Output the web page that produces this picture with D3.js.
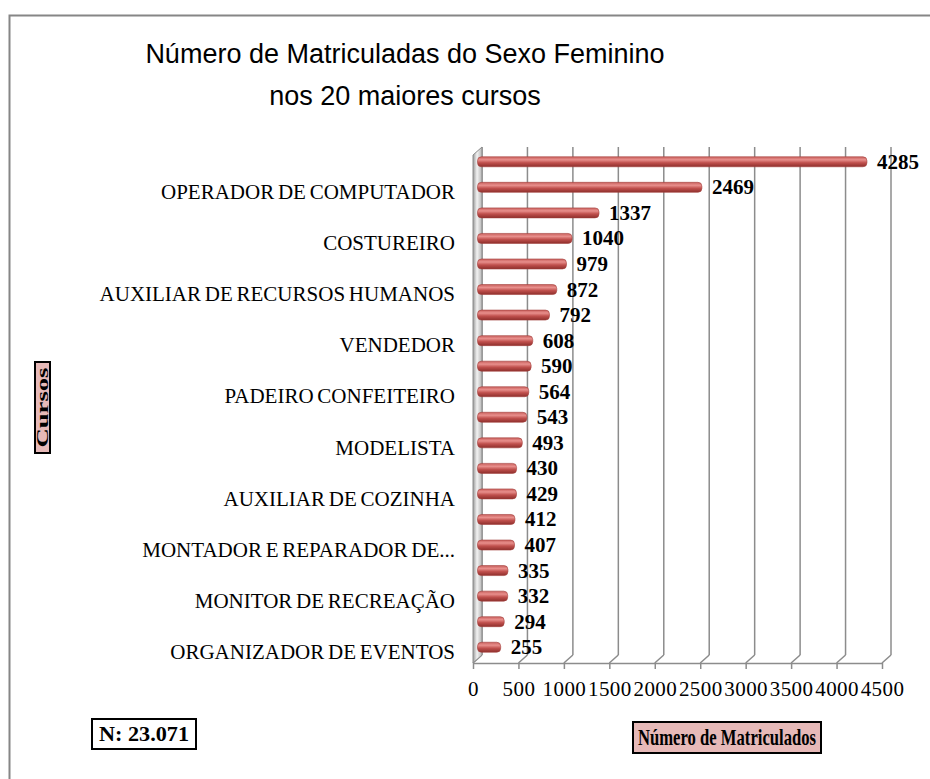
<!DOCTYPE html>
<html>
<head>
<meta charset="utf-8">
<script src="https://cdnjs.cloudflare.com/ajax/libs/d3/7.8.5/d3.min.js"></script>
<style>
  body { margin: 0; background: #fff; }
  svg { display: block; }
</style>
</head>
<body>
<div id="chart"></div>
<script>
// 20 maiores cursos (only every other name is printed on the axis; hidden ones unknown)
var cursos = [
    "", "OPERADOR DE COMPUTADOR",
    "", "COSTUREIRO",
    "", "AUXILIAR DE RECURSOS HUMANOS",
    "", "VENDEDOR",
    "", "PADEIRO CONFEITEIRO",
    "", "MODELISTA",
    "", "AUXILIAR DE COZINHA",
    "", "MONTADOR E REPARADOR DE...",
    "", "MONITOR DE RECREAÇÃO",
    "", "ORGANIZADOR DE EVENTOS"
];
var matriculadas = [4285, 2469, 1337, 1040, 979, 872, 792, 608, 590, 564,
                    543, 493, 430, 429, 412, 407, 335, 332, 294, 255];
var xTicks = [0, 500, 1000, 1500, 2000, 2500, 3000, 3500, 4000, 4500];

var width = 930, height = 779,
    depth = {x: 9, y: 8},
    plot = {left: 473, right: 882, top: 147, bottom: 663},
    grid_color = "#8c8c8c",
    serif = "'Liberation Serif', 'Times New Roman', serif";

var svg = d3.select("#chart").append("svg")
    .attr("width", width)
    .attr("height", height)
    .style("font-family", serif);

var defs = svg.append("defs");
var barGrad = defs.append("linearGradient")
    .attr("id", "bar-grad")
    .attr("x1", 0).attr("y1", 0).attr("x2", 0).attr("y2", 1);
barGrad.append("stop").attr("offset", "0%").attr("stop-color", "#c9605d");
barGrad.append("stop").attr("offset", "30%").attr("stop-color", "#e88f8c");
barGrad.append("stop").attr("offset", "60%").attr("stop-color", "#c0504d");
barGrad.append("stop").attr("offset", "100%").attr("stop-color", "#8e2f2c");

var wallGrad = defs.append("linearGradient")
    .attr("id", "wall-grad")
    .attr("x1", 0).attr("y1", 0).attr("x2", 1).attr("y2", 0);
wallGrad.append("stop").attr("offset", "0%").attr("stop-color", "#9a9a9a");
wallGrad.append("stop").attr("offset", "45%").attr("stop-color", "#f2f2f2");
wallGrad.append("stop").attr("offset", "100%").attr("stop-color", "#b5b5b5");

// outer chart border
svg.append("rect")
    .attr("x", 9.5).attr("y", 15.5)
    .attr("width", 930).attr("height", 780)
    .attr("fill", "#fff")
    .attr("stroke", "#868686")
    .attr("stroke-width", 2);

// title
var title = svg.append("text")
    .attr("text-anchor", "middle")
    .style("font-family", "'Liberation Sans', Arial, sans-serif")
    .style("font-size", "27px")
    .attr("fill", "#000");
title.append("tspan").attr("x", 405).attr("y", 63).text("Número de Matriculadas do Sexo Feminino");
title.append("tspan").attr("x", 405).attr("y", 105).text("nos 20 maiores cursos");

// scales
var xScale = d3.scaleLinear()
    .domain([0, 4500])
    .range([plot.left, plot.right]);

var yScale = d3.scaleBand()
    .domain(d3.range(matriculadas.length))
    .range([149, 660]);

// back wall gridlines
svg.append("g").selectAll("line")
    .data(xTicks)
    .enter().append("line")
    .attr("x1", function(d) { return xScale(d) + depth.x; })
    .attr("x2", function(d) { return xScale(d) + depth.x; })
    .attr("y1", plot.top)
    .attr("y2", plot.bottom - depth.y)
    .attr("stroke", grid_color)
    .attr("stroke-width", 1.5);

// floor diagonals
svg.append("g").selectAll("line")
    .data(xTicks)
    .enter().append("line")
    .attr("x1", function(d) { return xScale(d) + depth.x; })
    .attr("x2", function(d) { return xScale(d); })
    .attr("y1", plot.bottom - depth.y)
    .attr("y2", plot.bottom)
    .attr("stroke", grid_color)
    .attr("stroke-width", 1.5);

// left wall
svg.append("path")
    .attr("d", d3.line()([
        [plot.left, plot.top + depth.y],
        [plot.left + depth.x, plot.top],
        [plot.left + depth.x, plot.bottom - depth.y],
        [plot.left, plot.bottom]
    ]) + "Z")
    .attr("fill", "url(#wall-grad)")
    .attr("stroke", grid_color)
    .attr("stroke-width", 1);

// x axis on the front edge
var xAxis = d3.axisBottom()
    .scale(xScale)
    .tickValues(xTicks)
    .tickSize(6)
    .tickSizeOuter(0)
    .tickPadding(12)
    .tickFormat(d3.format("d"));

var gx = svg.append("g")
    .attr("transform", "translate(0," + plot.bottom + ")")
    .call(xAxis);
gx.select(".domain").attr("stroke", grid_color).attr("stroke-width", 1.5);
gx.selectAll(".tick line").attr("stroke", grid_color).attr("stroke-width", 1.5);
gx.selectAll(".tick text")
    .style("font-family", serif)
    .style("font-size", "21px")
    .style("letter-spacing", "0.4px")
    .attr("fill", "#000");

// y axis labels, every other course
var yAxis = d3.axisLeft()
    .scale(yScale)
    .tickValues(d3.range(1, matriculadas.length, 2))
    .tickSize(0)
    .tickPadding(0)
    .tickFormat(function(i) { return cursos[i]; });

var gy = svg.append("g")
    .attr("transform", "translate(455,5)")
    .call(yAxis);
gy.select(".domain").remove();
gy.selectAll(".tick text")
    .style("font-family", serif)
    .style("font-size", "21px")
    .style("word-spacing", "-1.5px")
    .attr("fill", "#000");

// cylinder bars
var barH = 10;
var barX0 = xScale(0) + depth.x / 2;
svg.append("g").selectAll("rect")
    .data(matriculadas)
    .enter().append("rect")
    .attr("x", barX0)
    .attr("y", function(d, i) { return yScale(i) + yScale.bandwidth() / 2 - barH / 2; })
    .attr("width", function(d) { return xScale(d) - xScale(0); })
    .attr("height", barH)
    .attr("rx", 4)
    .attr("fill", "url(#bar-grad)")
    .attr("stroke", "#a33f3c")
    .attr("stroke-width", 0.6);

// value labels
svg.append("g").selectAll("text")
    .data(matriculadas)
    .enter().append("text")
    .attr("x", function(d) { return barX0 + xScale(d) - xScale(0) + 10; })
    .attr("y", function(d, i) { return yScale(i) + yScale.bandwidth() / 2 + 7; })
    .style("font-size", "21px")
    .style("font-weight", "bold")
    .attr("fill", "#000")
    .text(function(d) { return d; });

// boxed labels
function boxLabel(x, y, w, h, txt, fill, size, len, rotate) {
    var g = svg.append("g").attr("transform", "translate(" + x + "," + y + ")");
    g.append("rect")
        .attr("width", w).attr("height", h)
        .attr("fill", fill)
        .attr("stroke", "#000")
        .attr("stroke-width", 2);
    g.append("text")
        .attr("text-anchor", "middle")
        .attr("transform", rotate
            ? "translate(" + (w / 2 + size * 0.3) + "," + (h / 2) + ") rotate(-90)"
            : "translate(" + (w / 2) + "," + (h / 2 + size * 0.32) + ")")
        .attr("textLength", len)
        .attr("lengthAdjust", "spacingAndGlyphs")
        .style("font-size", size + "px")
        .style("font-weight", "bold")
        .attr("fill", "#000")
        .text(txt);
}

boxLabel(35, 362, 15, 91, "Cursos", "#e6b9b8", 17, 80, true);
boxLabel(633, 722, 188, 31, "Número de Matriculados", "#e6b9b8", 23, 178, false);
boxLabel(92, 719, 104, 30, "N: 23.071", "#fff", 21, 90, false);
</script>
</body>
</html>
